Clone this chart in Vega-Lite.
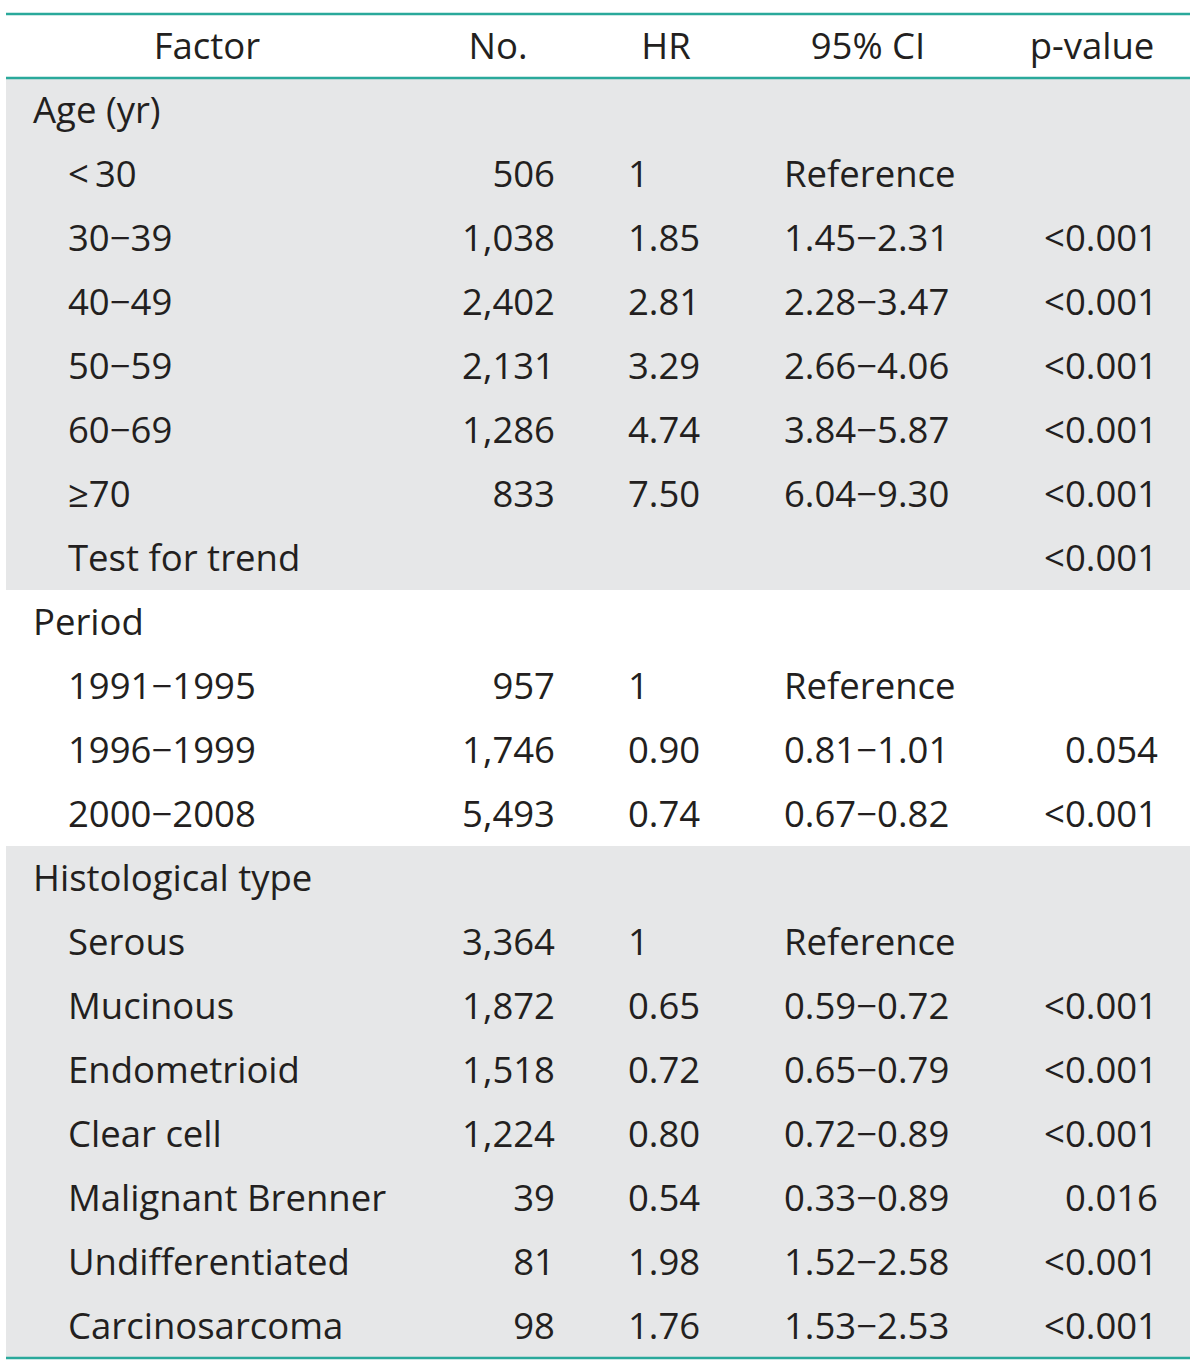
{
  "$schema": "https://vega.github.io/schema/vega-lite/v6.json",
  "width": 1200,
  "height": 1368,
  "autosize": {"type": "fit", "contains": "padding"},
  "padding": 0,
  "background": "#ffffff",
  "config": {"view": {"stroke": null}, "text": {"font": "Open Sans", "fontSize": 36.5, "color": "#231f20", "dy": 2}},
  "data": {"values": [
    {"row": 1, "section": "Age", "type": "group", "factor": "Age (yr)", "no": "", "hr": "", "ci": "", "p": ""},
    {"row": 2, "section": "Age", "type": "item", "factor": "<\u200930", "no": "506", "hr": "1", "ci": "Reference", "p": ""},
    {"row": 3, "section": "Age", "type": "item", "factor": "30\u221239", "no": "1,038", "hr": "1.85", "ci": "1.45\u22122.31", "p": "<0.001"},
    {"row": 4, "section": "Age", "type": "item", "factor": "40\u221249", "no": "2,402", "hr": "2.81", "ci": "2.28\u22123.47", "p": "<0.001"},
    {"row": 5, "section": "Age", "type": "item", "factor": "50\u221259", "no": "2,131", "hr": "3.29", "ci": "2.66\u22124.06", "p": "<0.001"},
    {"row": 6, "section": "Age", "type": "item", "factor": "60\u221269", "no": "1,286", "hr": "4.74", "ci": "3.84\u22125.87", "p": "<0.001"},
    {"row": 7, "section": "Age", "type": "item", "factor": "\u226570", "no": "833", "hr": "7.50", "ci": "6.04\u22129.30", "p": "<0.001"},
    {"row": 8, "section": "Age", "type": "item", "factor": "Test for trend", "no": "", "hr": "", "ci": "", "p": "<0.001"},
    {"row": 9, "section": "Period", "type": "group", "factor": "Period", "no": "", "hr": "", "ci": "", "p": ""},
    {"row": 10, "section": "Period", "type": "item", "factor": "1991\u22121995", "no": "957", "hr": "1", "ci": "Reference", "p": ""},
    {"row": 11, "section": "Period", "type": "item", "factor": "1996\u22121999", "no": "1,746", "hr": "0.90", "ci": "0.81\u22121.01", "p": "0.054"},
    {"row": 12, "section": "Period", "type": "item", "factor": "2000\u22122008", "no": "5,493", "hr": "0.74", "ci": "0.67\u22120.82", "p": "<0.001"},
    {"row": 13, "section": "Histology", "type": "group", "factor": "Histological type", "no": "", "hr": "", "ci": "", "p": ""},
    {"row": 14, "section": "Histology", "type": "item", "factor": "Serous", "no": "3,364", "hr": "1", "ci": "Reference", "p": ""},
    {"row": 15, "section": "Histology", "type": "item", "factor": "Mucinous", "no": "1,872", "hr": "0.65", "ci": "0.59\u22120.72", "p": "<0.001"},
    {"row": 16, "section": "Histology", "type": "item", "factor": "Endometrioid", "no": "1,518", "hr": "0.72", "ci": "0.65\u22120.79", "p": "<0.001"},
    {"row": 17, "section": "Histology", "type": "item", "factor": "Clear cell", "no": "1,224", "hr": "0.80", "ci": "0.72\u22120.89", "p": "<0.001"},
    {"row": 18, "section": "Histology", "type": "item", "factor": "Malignant Brenner", "no": "39", "hr": "0.54", "ci": "0.33\u22120.89", "p": "0.016"},
    {"row": 19, "section": "Histology", "type": "item", "factor": "Undifferentiated", "no": "81", "hr": "1.98", "ci": "1.52\u22122.58", "p": "<0.001"},
    {"row": 20, "section": "Histology", "type": "item", "factor": "Carcinosarcoma", "no": "98", "hr": "1.76", "ci": "1.53\u22122.53", "p": "<0.001"}
  ]},
  "encoding": {
    "y": {"field": "row", "type": "ordinal", "axis": null,
      "scale": {"domain": [0,1,2,3,4,5,6,7,8,9,10,11,12,13,14,15,16,17,18,19,20], "range": [14, 1358], "paddingInner": 0, "paddingOuter": 0}}
  },
  "layer": [
    {
      "transform": [{"filter": {"field": "section", "oneOf": ["Age", "Histology"]}}],
      "mark": {"type": "rect", "color": "#e6e7e8"},
      "encoding": {
        "x": {"datum": 6, "type": "quantitative", "axis": null, "scale": {"domain": [0, 1200], "nice": false, "zero": false}},
        "x2": {"datum": 1190}
      }
    },
    {
      "mark": {"type": "text", "align": "left", "baseline": "middle"},
      "transform": [{"filter": {"field": "type", "equal": "group"}}],
      "encoding": {"x": {"datum": 33, "type": "quantitative"}, "text": {"field": "factor"}}
    },
    {
      "mark": {"type": "text", "align": "left", "baseline": "middle"},
      "transform": [{"filter": {"field": "type", "equal": "item"}}],
      "encoding": {"x": {"datum": 68, "type": "quantitative"}, "text": {"field": "factor"}}
    },
    {
      "mark": {"type": "text", "align": "right", "baseline": "middle"},
      "encoding": {"x": {"datum": 555, "type": "quantitative"}, "text": {"field": "no"}}
    },
    {
      "mark": {"type": "text", "align": "left", "baseline": "middle"},
      "encoding": {"x": {"datum": 628, "type": "quantitative"}, "text": {"field": "hr"}}
    },
    {
      "mark": {"type": "text", "align": "left", "baseline": "middle"},
      "encoding": {"x": {"datum": 784, "type": "quantitative"}, "text": {"field": "ci"}}
    },
    {
      "mark": {"type": "text", "align": "right", "baseline": "middle"},
      "encoding": {"x": {"datum": 1158, "type": "quantitative"}, "text": {"field": "p"}}
    },
    {
      "data": {"values": [{"h": "Factor"}]},
      "mark": {"type": "text", "align": "center", "baseline": "middle"},
      "encoding": {"x": {"datum": 207, "type": "quantitative"}, "y": {"datum": 0}, "text": {"field": "h"}}
    },
    {
      "data": {"values": [{"h": "No."}]},
      "mark": {"type": "text", "align": "center", "baseline": "middle"},
      "encoding": {"x": {"datum": 498, "type": "quantitative"}, "y": {"datum": 0}, "text": {"field": "h"}}
    },
    {
      "data": {"values": [{"h": "HR"}]},
      "mark": {"type": "text", "align": "center", "baseline": "middle"},
      "encoding": {"x": {"datum": 666, "type": "quantitative"}, "y": {"datum": 0}, "text": {"field": "h"}}
    },
    {
      "data": {"values": [{"h": "95% CI"}]},
      "mark": {"type": "text", "align": "center", "baseline": "middle"},
      "encoding": {"x": {"datum": 868, "type": "quantitative"}, "y": {"datum": 0}, "text": {"field": "h"}}
    },
    {
      "data": {"values": [{"h": "p-value"}]},
      "mark": {"type": "text", "align": "center", "baseline": "middle"},
      "encoding": {"x": {"datum": 1092, "type": "quantitative"}, "y": {"datum": 0}, "text": {"field": "h"}}
    },
    {
      "data": {"values": [{"r": 0, "b": 0}, {"r": 1, "b": 0}, {"r": 20, "b": 1}]},
      "layer": [
        {
          "transform": [{"filter": "datum.b == 0"}],
          "mark": {"type": "rule", "color": "#2aa99b", "strokeWidth": 2.5},
          "encoding": {"x": {"datum": 6, "type": "quantitative"}, "x2": {"datum": 1190}, "y": {"field": "r", "type": "ordinal", "bandPosition": 0}}
        },
        {
          "transform": [{"filter": "datum.b == 1"}],
          "mark": {"type": "rule", "color": "#2aa99b", "strokeWidth": 2.5},
          "encoding": {"x": {"datum": 6, "type": "quantitative"}, "x2": {"datum": 1190}, "y": {"field": "r", "type": "ordinal", "bandPosition": 1}}
        }
      ]
    }
  ]
}
